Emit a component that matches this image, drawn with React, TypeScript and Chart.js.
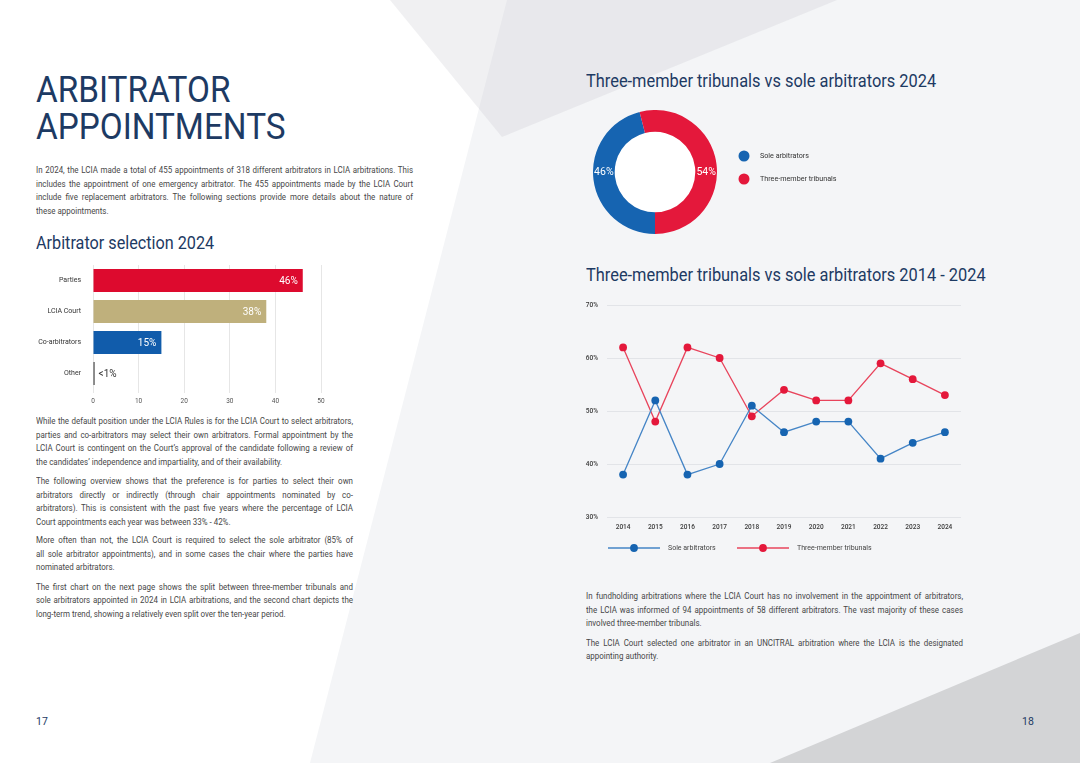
import React, { useEffect, useRef } from 'react';
import { Chart, registerables } from 'chart.js';

Chart.register(...registerables);

const FONT = "Roboto, 'Noto Sans', Arial, sans-serif";
const NAVY = '#1d3a63';
const TEXT = '#474747';
const BLUE = '#1664b1';
const RED = '#e4183b';
const BLUE_LINE = '#4585c6';
const RED_LINE = '#e8445c';

// ---- Arbitrator selection 2024 (horizontal bars)
const selectionCategories = ['Parties', 'LCIA Court', 'Co-arbitrators', 'Other'];
const selectionValues = [46, 38, 15, 0.35];
const selectionLabels = ['46%', '38%', '15%', '<1%'];
const selectionColors = ['#dd0a2e', '#bfb07c', '#115cab', '#3a3a3a'];
const selectionTicks = [0, 10, 20, 30, 40, 50];

// ---- Three-member tribunals vs sole arbitrators 2024 (doughnut)
const splitLabels = ['Sole arbitrators', 'Three-member tribunals'];
const split2024 = [46, 54];
const splitText = ['46%', '54%'];

// ---- Three-member tribunals vs sole arbitrators 2014 - 2024 (lines)
const years = ['2014', '2015', '2016', '2017', '2018', '2019', '2020', '2021', '2022', '2023', '2024'];
const soleSeries = [38, 52, 38, 40, 51, 46, 48, 48, 41, 44, 46];
const threeSeries = [62, 48, 62, 60, 49, 54, 52, 52, 59, 56, 53];
const trendTicks = [30, 40, 50, 60, 70];

// ---- Page text
const introLines = [
  'In 2024, the LCIA made a total of 455 appointments of 318 different arbitrators in LCIA arbitrations. This',
  'includes the appointment of one emergency arbitrator. The 455 appointments made by the LCIA Court',
  'include five replacement arbitrators. The following sections provide more details about the nature of',
  'these appointments.',
];
const para2 = [
  'While the default position under the LCIA Rules is for the LCIA Court to select arbitrators,',
  'parties and co-arbitrators may select their own arbitrators. Formal appointment by the',
  'LCIA Court is contingent on the Court\u2019s approval of the candidate following a review of',
  'the candidates\u2019 independence and impartiality, and of their availability.',
];
const para3 = [
  'The following overview shows that the preference is for parties to select their own',
  'arbitrators directly or indirectly (through chair appointments nominated by co-',
  'arbitrators). This is consistent with the past five years where the percentage of LCIA',
  'Court appointments each year was between 33% - 42%.',
];
const para4 = [
  'More often than not, the LCIA Court is required to select the sole arbitrator (85% of',
  'all sole arbitrator appointments), and in some cases the chair where the parties have',
  'nominated arbitrators.',
];
const para5 = [
  'The first chart on the next page shows the split between three-member tribunals and',
  'sole arbitrators appointed in 2024 in LCIA arbitrations, and the second chart depicts the',
  'long-term trend, showing a relatively even split over the ten-year period.',
];
const rightPara1 = [
  'In fundholding arbitrations where the LCIA Court has no involvement in the appointment of arbitrators,',
  'the LCIA was informed of 94 appointments of 58 different arbitrators. The vast majority of these cases',
  'involved three-member tribunals.',
];
const rightPara2 = [
  'The LCIA Court selected one arbitrator in an UNCITRAL arbitration where the LCIA is the designated',
  'appointing authority.',
];

type TBProps = {
  left: number; top: number; width: number; lines: string[];
  size?: number; lh?: number; scale?: number; color?: string; weight?: number;
};

function TextBlock({ left, top, width, lines, size = 9.7, lh = 13.6, scale = 0.82, color = TEXT, weight = 400 }: TBProps) {
  return (
    <div
      style={{
        position: 'absolute', left, top, width: width / scale,
        transform: `scaleX(${scale})`, transformOrigin: '0 0',
        fontSize: size, lineHeight: `${lh}px`, color, fontWeight: weight, fontFamily: FONT,
      }}
    >
      {lines.map((t, i) => {
        const j = i < lines.length - 1;
        return (
          <div key={i} style={{ textAlign: j ? 'justify' : 'left', textAlignLast: j ? 'justify' : 'left' } as any}>
            {t}
          </div>
        );
      })}
    </div>
  );
}

const noPadY = (w: number) => (s: any) => { s.width = w; s.paddingTop = 0; s.paddingBottom = 0; };
const noPadX = (h: number) => (s: any) => { s.height = h; s.paddingLeft = 0; s.paddingRight = 0; };

function SelectionChart() {
  const ref = useRef<HTMLCanvasElement | null>(null);
  useEffect(() => {
    if (!ref.current) return;
    const labelPlugin = {
      id: 'barLabels',
      afterDatasetsDraw(chart: any) {
        const ctx = chart.ctx;
        const meta = chart.getDatasetMeta(0);
        ctx.save();
        ctx.font = `400 10px ${FONT}`;
        ctx.textBaseline = 'middle';
        meta.data.forEach((el: any, i: number) => {
          const { x, y, base } = el.getProps(['x', 'y', 'base'], true);
          const label = selectionLabels[i];
          if (x - base > 30) {
            ctx.fillStyle = '#ffffff';
            ctx.textAlign = 'right';
            ctx.fillText(label, x - 5, y + 0.5);
          } else {
            ctx.fillStyle = '#333333';
            ctx.textAlign = 'left';
            ctx.fillText(label, x + 4, y + 0.5);
          }
        });
        ctx.restore();
      },
    };
    const chart = new Chart(ref.current, {
      type: 'bar',
      data: {
        labels: selectionCategories,
        datasets: [{
          data: selectionValues,
          backgroundColor: selectionColors,
          borderWidth: 0,
          barPercentage: 0.74,
          categoryPercentage: 1,
        }],
      },
      options: {
        indexAxis: 'y',
        animation: false,
        responsive: false,
        layout: { padding: { top: 7, right: 9, bottom: 0, left: 0 } },
        plugins: { legend: { display: false }, tooltip: { enabled: false } },
        scales: {
          x: {
            min: 0, max: 50,
            afterBuildTicks: (s: any) => { s.ticks = selectionTicks.map((v) => ({ value: v })); },
            ticks: { font: { family: FONT, size: 6.5 }, color: '#555', padding: 4 },
            grid: { color: '#e6e6e6', drawTicks: true, tickLength: 4, lineWidth: 1 },
            border: { display: false },
            afterFit: noPadX(18),
          },
          y: {
            ticks: { font: { family: FONT, size: 7 }, color: '#333', padding: 12 },
            grid: { display: false, drawTicks: false },
            border: { display: false },
            afterFit: noPadY(73),
          },
        },
      } as any,
      plugins: [labelPlugin],
    });
    return () => chart.destroy();
  }, []);
  return <canvas ref={ref} width={310} height={149} style={{ position: 'absolute', left: 20, top: 258 }} />;
}

function SplitChart() {
  const ref = useRef<HTMLCanvasElement | null>(null);
  useEffect(() => {
    if (!ref.current) return;
    const extras = {
      id: 'doughnutExtras',
      beforeDatasetsDraw(chart: any) {
        const el = chart.getDatasetMeta(0).data[0];
        if (!el) return;
        const ctx = chart.ctx;
        ctx.save();
        ctx.fillStyle = '#ffffff';
        ctx.beginPath();
        ctx.arc(el.x, el.y, el.innerRadius, 0, Math.PI * 2);
        ctx.fill();
        ctx.restore();
      },
      afterDatasetsDraw(chart: any) {
        const ctx = chart.ctx;
        const meta = chart.getDatasetMeta(0);
        ctx.save();
        ctx.font = `400 10.5px ${FONT}`;
        ctx.fillStyle = '#ffffff';
        ctx.textAlign = 'center';
        ctx.textBaseline = 'middle';
        meta.data.forEach((el: any, i: number) => {
          const mid = (el.startAngle + el.endAngle) / 2;
          const side = Math.cos(mid) >= 0 ? 1 : -1;
          const r = (el.innerRadius + el.outerRadius) / 2;
          ctx.fillText(splitText[i], el.x + side * r, el.y + 0.5);
        });
        // legend
        const area = chart.chartArea;
        const colors = chart.data.datasets[0].backgroundColor;
        ctx.font = `400 7.2px ${FONT}`;
        ctx.textAlign = 'left';
        splitLabels.forEach((lab, i) => {
          const cy = area.top + 46 + i * 23;
          const cx = area.right + 27;
          ctx.fillStyle = colors[i];
          ctx.beginPath();
          ctx.arc(cx, cy, 5.5, 0, Math.PI * 2);
          ctx.fill();
          ctx.fillStyle = '#333333';
          ctx.fillText(lab, cx + 16, cy + 0.5);
        });
        ctx.restore();
      },
    };
    const chart = new Chart(ref.current, {
      type: 'doughnut',
      data: {
        labels: splitLabels,
        datasets: [{ data: split2024, backgroundColor: [BLUE, RED], borderWidth: 0, hoverOffset: 0 }],
      },
      options: {
        animation: false,
        responsive: false,
        rotation: 180,
        cutout: '65%',
        layout: { padding: { top: 0, left: 0, bottom: 0, right: 216 } },
        plugins: { legend: { display: false }, tooltip: { enabled: false } },
      } as any,
      plugins: [extras],
    });
    return () => chart.destroy();
  }, []);
  return <canvas ref={ref} width={340} height={124} style={{ position: 'absolute', left: 593, top: 110 }} />;
}

function TrendChart() {
  const ref = useRef<HTMLCanvasElement | null>(null);
  useEffect(() => {
    if (!ref.current) return;
    const legendPlugin = {
      id: 'lineLegend',
      afterDraw(chart: any) {
        const ctx = chart.ctx;
        const area = chart.chartArea;
        const y = area.bottom + 31;
        const starts = [area.left + 1, area.left + 130];
        ctx.save();
        ctx.font = `400 7px ${FONT}`;
        ctx.textBaseline = 'middle';
        ctx.textAlign = 'left';
        chart.data.datasets.forEach((ds: any, i: number) => {
          const x = starts[i];
          ctx.strokeStyle = ds.borderColor;
          ctx.lineWidth = 1.3;
          ctx.beginPath();
          ctx.moveTo(x, y);
          ctx.lineTo(x + 52, y);
          ctx.stroke();
          ctx.fillStyle = ds.pointBackgroundColor;
          ctx.beginPath();
          ctx.arc(x + 26, y, 3.9, 0, Math.PI * 2);
          ctx.fill();
          ctx.fillStyle = '#444444';
          ctx.fillText(ds.label, x + 60, y + 0.5);
        });
        ctx.restore();
      },
    };
    const chart = new Chart(ref.current, {
      type: 'line',
      data: {
        labels: years,
        datasets: [
          {
            label: 'Sole arbitrators', data: soleSeries,
            borderColor: BLUE_LINE, backgroundColor: BLUE, pointBackgroundColor: BLUE,
            pointBorderWidth: 0, pointRadius: 3.9, borderWidth: 1.3, tension: 0, fill: false,
          },
          {
            label: 'Three-member tribunals', data: threeSeries,
            borderColor: RED_LINE, backgroundColor: RED, pointBackgroundColor: RED,
            pointBorderWidth: 0, pointRadius: 3.9, borderWidth: 1.3, tension: 0, fill: false,
          },
        ],
      },
      options: {
        animation: false,
        responsive: false,
        layout: { padding: { top: 10, right: 9, bottom: 35, left: 0 } },
        plugins: { legend: { display: false }, tooltip: { enabled: false } },
        scales: {
          x: {
            offset: true,
            grid: { display: false, drawTicks: false },
            border: { display: false },
            ticks: { font: { family: FONT, size: 6.5, weight: '500' }, color: '#3a3a3a', padding: 6, maxRotation: 0, autoSkip: false },
            afterFit: noPadX(20),
          },
          y: {
            min: 30, max: 70,
            afterBuildTicks: (s: any) => { s.ticks = trendTicks.map((v) => ({ value: v })); },
            ticks: { font: { family: FONT, size: 6.5, weight: '500' }, color: '#3a3a3a', padding: 9, callback: (v: any) => `${v}%` },
            grid: { color: '#e2e4e8', drawTicks: false, lineWidth: 1 },
            border: { display: false },
            afterFit: noPadY(27),
          },
        },
      } as any,
      plugins: [legendPlugin],
    });
    return () => chart.destroy();
  }, []);
  return <canvas ref={ref} width={390} height={277} style={{ position: 'absolute', left: 580, top: 295 }} />;
}

export default function App() {
  return (
    <div style={{ position: 'absolute', left: 0, top: 0, width: 1080, height: 763, overflow: 'hidden', background: '#ffffff', fontFamily: FONT }}>
      <svg width={1080} height={763} style={{ position: 'absolute', left: 0, top: 0 }}>
        <polygon points="507,0 1080,0 1080,763 310,763" fill="#f4f5f7" />
        <polygon points="390,0 837,0 502,137" fill="rgb(199,201,208)" fillOpacity={0.27} />
        <polygon points="770,763 1080,633 1080,763" fill="#d3d4d6" />
      </svg>

      <TextBlock left={36} top={72} width={300} lines={['ARBITRATOR', 'APPOINTMENTS']} size={37} lh={36.5} scale={0.9} color={NAVY} />
      <TextBlock left={36} top={163.2} width={377} lines={introLines} />
      <TextBlock left={36} top={233} width={260} lines={['Arbitrator selection 2024']} size={18} lh={20} scale={0.9} color={NAVY} />
      <SelectionChart />
      <TextBlock left={36} top={414.2} width={317} lines={para2} />
      <TextBlock left={36} top={474.2} width={317} lines={para3} />
      <TextBlock left={36} top={533.2} width={317} lines={para4} />
      <TextBlock left={36} top={579.9} width={317} lines={para5} />
      <TextBlock left={36} top={715} width={40} lines={['17']} size={10.5} lh={14} scale={1} color={NAVY} />

      <TextBlock left={586} top={70.5} width={420} lines={['Three-member tribunals vs sole arbitrators 2024']} size={18} lh={20} scale={0.91} color={NAVY} />
      <SplitChart />
      <TextBlock left={586} top={264.5} width={460} lines={['Three-member tribunals vs sole arbitrators 2014 - 2024']} size={18} lh={20} scale={0.91} color={NAVY} />
      <TrendChart />
      <TextBlock left={586} top={589.2} width={377} lines={rightPara1} />
      <TextBlock left={586} top={635.9} width={377} lines={rightPara2} />
      <TextBlock left={1022} top={715} width={40} lines={['18']} size={10.5} lh={14} scale={1} color={NAVY} />
    </div>
  );
}
